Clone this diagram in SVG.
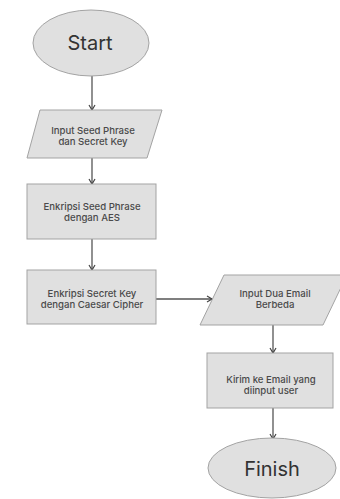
<svg xmlns="http://www.w3.org/2000/svg" width="340" height="499" viewBox="0 0 340 499">
<style>
.n{fill:#e0e0e0;stroke:#a3a3a3;stroke-width:1}
.t{font-family:Inter,"Liberation Sans",sans-serif;font-size:9.6px;font-weight:500;fill:#4a4a4a;text-anchor:middle}
.b{font-family:Inter,"Liberation Sans",sans-serif;font-size:20px;fill:#333;text-anchor:middle}
.c{stroke:#555;stroke-width:1.3;fill:none;marker-end:url(#a)}
</style>
<defs>
<marker id="a" markerWidth="8" markerHeight="8" refX="6" refY="4" orient="auto" markerUnits="userSpaceOnUse">
<path d="M1,1 L6,4 L1,7" fill="none" stroke="#444" stroke-width="1.2"/>
</marker>
</defs>
<rect width="340" height="499" fill="#fff"/>
<g id="connectors">
<line class="c" x1="92" y1="76" x2="92" y2="110"/>
<line class="c" x1="92" y1="158" x2="92" y2="184"/>
<line class="c" x1="92" y1="239" x2="92" y2="270"/>
<line class="c" x1="156" y1="299" x2="212" y2="299"/>
<line class="c" x1="273" y1="325" x2="273" y2="353"/>
<line class="c" x1="273" y1="408" x2="273" y2="439"/>
</g>
<g id="start">
<ellipse class="n" cx="91" cy="43" rx="58" ry="33"/>
<text class="b" x="90" y="50">Start</text>
</g>
<g id="input1">
<polygon class="n" points="40,110 162,110 147,158 27,158"/>
<text class="t" x="93" y="134">Input Seed Phrase</text>
<text class="t" x="93" y="145">dan Secret Key</text>
</g>
<g id="enc1">
<rect class="n" x="27" y="184" width="129" height="55"/>
<text class="t" x="92" y="210">Enkripsi Seed Phrase</text>
<text class="t" x="92" y="221">dengan AES</text>
</g>
<g id="enc2">
<rect class="n" x="27" y="270" width="129" height="54"/>
<text class="t" x="92" y="297">Enkripsi Secret Key</text>
<text class="t" x="92" y="308">dengan Caesar Cipher</text>
</g>
<g id="input2">
<polygon class="n" points="224,275 347,275 323,325 200,325"/>
<text class="t" x="275" y="297">Input Dua Email</text>
<text class="t" x="275" y="308">Berbeda</text>
</g>
<g id="send">
<rect class="n" x="207" y="353" width="126" height="55"/>
<text class="t" x="271" y="383">Kirim ke Email yang</text>
<text class="t" x="271" y="394">diinput user</text>
</g>
<g id="finish">
<ellipse class="n" cx="272" cy="468" rx="64" ry="30"/>
<text class="b" x="272" y="476">Finish</text>
</g>
</svg>
